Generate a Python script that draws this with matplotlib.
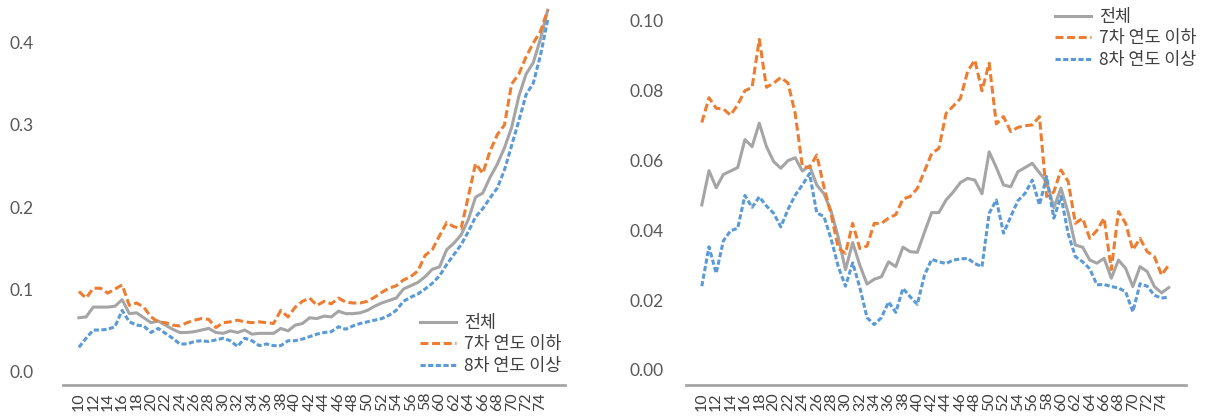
import matplotlib
matplotlib.use("Agg")
import matplotlib.pyplot as plt

plt.rcParams['font.family'] = ['Lato', 'Noto Sans CJK KR', 'DejaVu Sans']

years = list(range(10, 76))
tick_pos = list(range(10, 76, 2))
series_names = ["전체", "7차 연도 이하", "8차 연도 이상"]

# left panel
left_total = [0.065, 0.066, 0.078, 0.078, 0.078, 0.079, 0.087, 0.070, 0.071, 0.065,
              0.059, 0.061, 0.056, 0.051, 0.047, 0.047, 0.048, 0.050, 0.052, 0.047,
              0.046, 0.049, 0.047, 0.050, 0.045, 0.046, 0.046, 0.046, 0.052, 0.049,
              0.056, 0.058, 0.065, 0.064, 0.067, 0.066, 0.073, 0.070, 0.070, 0.071,
              0.074, 0.079, 0.083, 0.086, 0.089, 0.100, 0.104, 0.108, 0.115, 0.124,
              0.127, 0.148, 0.156, 0.166, 0.185, 0.212, 0.217, 0.236, 0.252, 0.272,
              0.297, 0.335, 0.362, 0.376, 0.405, 0.440]
left_early = [0.097, 0.089, 0.101, 0.101, 0.095, 0.100, 0.105, 0.080, 0.083, 0.078,
              0.066, 0.060, 0.059, 0.056, 0.055, 0.059, 0.062, 0.064, 0.063, 0.053,
              0.059, 0.060, 0.062, 0.060, 0.059, 0.060, 0.059, 0.058, 0.074, 0.066,
              0.078, 0.085, 0.089, 0.080, 0.085, 0.082, 0.089, 0.084, 0.083, 0.083,
              0.085, 0.090, 0.096, 0.101, 0.104, 0.111, 0.115, 0.122, 0.141, 0.148,
              0.165, 0.181, 0.176, 0.174, 0.213, 0.253, 0.241, 0.268, 0.288, 0.300,
              0.350, 0.362, 0.383, 0.400, 0.414, 0.440]
left_late = [0.029, 0.040, 0.050, 0.050, 0.051, 0.054, 0.074, 0.060, 0.056, 0.055,
             0.047, 0.052, 0.046, 0.040, 0.033, 0.033, 0.036, 0.037, 0.036, 0.038,
             0.040, 0.037, 0.030, 0.040, 0.037, 0.031, 0.033, 0.031, 0.031, 0.037,
             0.037, 0.039, 0.042, 0.045, 0.047, 0.048, 0.054, 0.051, 0.055, 0.058,
             0.060, 0.062, 0.064, 0.068, 0.074, 0.085, 0.090, 0.094, 0.100, 0.107,
             0.116, 0.130, 0.142, 0.154, 0.170, 0.188, 0.198, 0.211, 0.223, 0.245,
             0.275, 0.305, 0.337, 0.351, 0.385, 0.428]

# right panel
right_total = [0.0473, 0.0571, 0.0522, 0.0560, 0.0570, 0.0580, 0.0660, 0.0640, 0.0707, 0.0640,
               0.0597, 0.0578, 0.0600, 0.0608, 0.0570, 0.0585, 0.0530, 0.0505, 0.0455, 0.0380,
               0.0287, 0.0365, 0.0300, 0.0246, 0.0260, 0.0267, 0.0310, 0.0296, 0.0352, 0.0339,
               0.0337, 0.0395, 0.0451, 0.0451, 0.0487, 0.0510, 0.0537, 0.0549, 0.0544, 0.0505,
               0.0625, 0.0580, 0.0530, 0.0525, 0.0568, 0.0580, 0.0592, 0.0565, 0.0540, 0.0465,
               0.0521, 0.0450, 0.0358, 0.0352, 0.0315, 0.0306, 0.0320, 0.0263, 0.0315, 0.0291,
               0.0239, 0.0296, 0.0282, 0.0239, 0.0221, 0.0236]
right_early = [0.0709, 0.0780, 0.0750, 0.0748, 0.0730, 0.0760, 0.0800, 0.0810, 0.0947, 0.0810,
               0.0822, 0.0838, 0.0822, 0.0735, 0.0583, 0.0580, 0.0616, 0.0525, 0.0446, 0.0349,
               0.0334, 0.0420, 0.0348, 0.0355, 0.0420, 0.0420, 0.0435, 0.0445, 0.0490, 0.0497,
               0.0520, 0.0570, 0.0620, 0.0635, 0.0735, 0.0756, 0.0778, 0.0855, 0.0888, 0.0800,
               0.0879, 0.0705, 0.0726, 0.0683, 0.0695, 0.0700, 0.0702, 0.0726, 0.0497, 0.0510,
               0.0573, 0.0540, 0.0420, 0.0435, 0.0377, 0.0400, 0.0435, 0.0288, 0.0454, 0.0420,
               0.0344, 0.0377, 0.0339, 0.0325, 0.0272, 0.0301]
right_late = [0.0240, 0.0353, 0.0277, 0.0370, 0.0399, 0.0406, 0.0500, 0.0466, 0.0496, 0.0470,
              0.0449, 0.0410, 0.0460, 0.0501, 0.0530, 0.0563, 0.0450, 0.0440, 0.0375, 0.0296,
              0.0240, 0.0307, 0.0236, 0.0150, 0.0130, 0.0150, 0.0195, 0.0165, 0.0234, 0.0210,
              0.0188, 0.0272, 0.0317, 0.0310, 0.0305, 0.0315, 0.0318, 0.0320, 0.0305, 0.0296,
              0.0449, 0.0487, 0.0392, 0.0439, 0.0485, 0.0506, 0.0544, 0.0473, 0.0554, 0.0435,
              0.0497, 0.0390, 0.0325, 0.0310, 0.0290, 0.0244, 0.0245, 0.0239, 0.0235, 0.0224,
              0.0167, 0.0247, 0.0240, 0.0214, 0.0206, 0.0209]

GRAY = "#A5A5A5"
ORANGE = "#ED7D31"
BLUE = "#5B9BD5"
TXT = "#595959"

fig = plt.figure(figsize=(12.07, 4.16), dpi=100)
W, H = 1207, 416


def panel(rect, total, early, late, ylim, yticks, ylabels, ypad, leg_xy):
    ax = fig.add_axes(rect)
    for s in ["top", "right", "left"]:
        ax.spines[s].set_visible(False)
    ax.spines["bottom"].set_color("#A6A6A6")
    ax.spines["bottom"].set_linewidth(2)
    ax.plot(years, total, color=GRAY, lw=2.2, label=series_names[0], solid_joinstyle="round")
    ax.plot(years, early, color=ORANGE, lw=2.2, dashes=(2.6, 1.2), label=series_names[1])
    ax.plot(years, late, color=BLUE, lw=2.2, dashes=(1.7, 0.8), label=series_names[2])
    ax.set_xlim(7.8, 77.4)
    ax.set_ylim(*ylim)
    ax.set_xticks(tick_pos)
    ax.set_xticklabels([str(t) for t in tick_pos], rotation=90, fontsize=11.5,
                       color="#404040", va="top")
    ax.set_yticks(yticks)
    ax.set_yticklabels(ylabels, fontsize=12.5, color=TXT)
    ax.tick_params(axis="x", length=0, pad=5)
    ax.tick_params(axis="y", length=0, pad=ypad)
    leg = ax.legend(loc="upper left", bbox_to_anchor=(leg_xy[0] / W, 1 - leg_xy[1] / H),
                    bbox_transform=fig.transFigure, frameon=False, borderpad=0,
                    borderaxespad=0, handlelength=2.1, handletextpad=0.45,
                    labelspacing=0.2, prop={"family": ["Noto Sans CJK KR"], "size": 12.5})
    for t in leg.get_texts():
        t.set_color("#404040")
    return ax


panel([63 / W, 31 / H, 502 / W, 385 / H], left_total, left_early, left_late,
      (-0.017, 0.4524), [0.0, 0.1, 0.2, 0.3, 0.4], ["0.0", "0.1", "0.2", "0.3", "0.4"],
      21, (420, 314))
panel([686 / W, 31 / H, 500 / W, 385 / H], right_total, right_early, right_late,
      (-0.0043, 0.106), [0.0, 0.02, 0.04, 0.06, 0.08, 0.10],
      ["0.00", "0.02", "0.04", "0.06", "0.08", "0.10"], 16, (1055, 8))

fig.savefig("out.png", dpi=100)
